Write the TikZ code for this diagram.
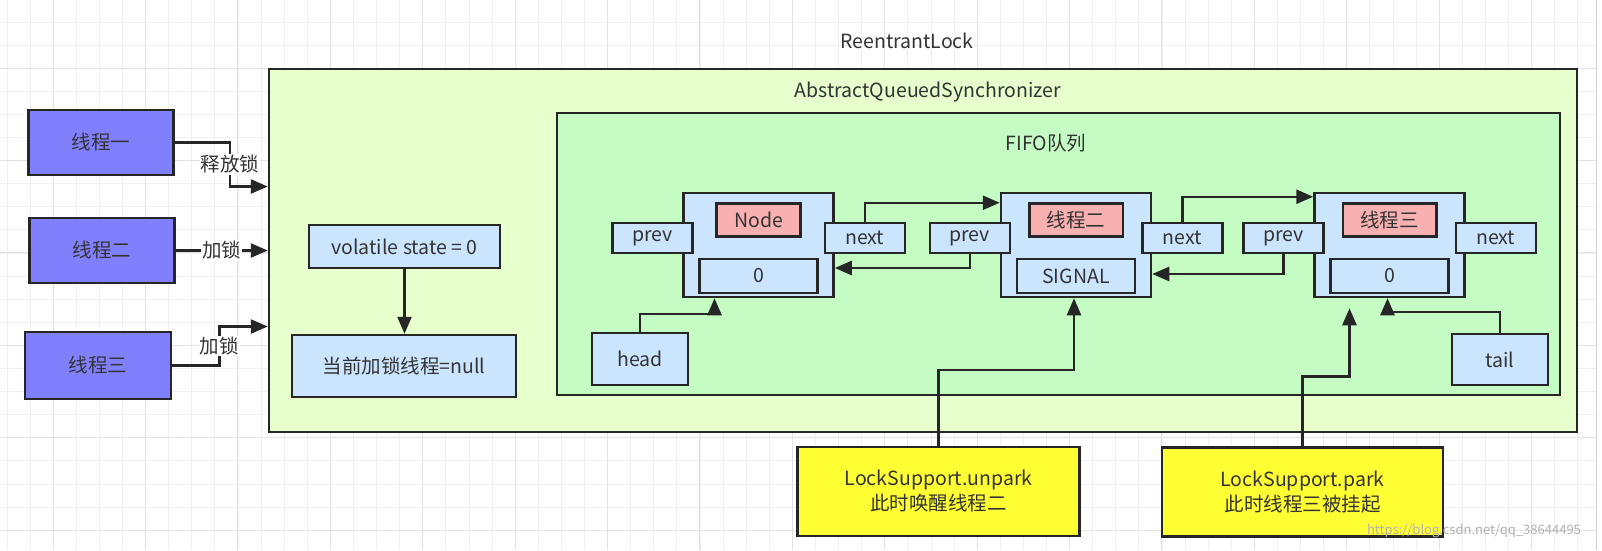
\documentclass[tikz,border=0pt]{standalone}
\usepackage{fontspec}
\setmainfont{Noto Sans CJK SC}
\usetikzlibrary{arrows.meta,calc,positioning}
\definecolor{threadpurple}{HTML}{8080FF}
\definecolor{aqsgreen}{HTML}{E6FFCC}
\definecolor{fifogreen}{HTML}{C4FCC4}
\definecolor{boxblue}{HTML}{CCE5FF}
\definecolor{tagred}{HTML}{F8B0B0}
\definecolor{noteyellow}{HTML}{FFFF33}
\definecolor{edgegrey}{HTML}{262626}
\definecolor{textgrey}{HTML}{333333}
\definecolor{gridminor}{HTML}{F0F0F0}
\definecolor{gridmajor}{HTML}{E2E2E2}
\newcommand{\queuenode}[4]{% {name}{x}{label}{value}
  % Outer box
  \node[qbox] (#1) at (#2,245) {};
  % Label and value
  \node[tagbox] (#1tag) at (#2,220) {#3};
  \node[valbox] (#1val) at (#2,276) {#4};
  % Pointers
  \node[ptrbox] (#1prev) at ($(#1.west)+(-30,-7)$) {prev};
  \node[ptrbox] (#1next) at ($(#1.east)+(30,-7)$) {next};
}

\begin{document}
\begin{tikzpicture}[x=1pt,y=-1pt,
  every node/.style={font=\fontsize{19.5}{25}\selectfont,text=textgrey},
  box/.style={draw=edgegrey,line width=2.5pt,inner sep=0pt},
  thread/.style={box,fill=threadpurple,minimum width=145,minimum height=65},
  bluebox/.style={box,fill=boxblue},
  qbox/.style={bluebox,minimum width=150,minimum height=104},
  tagbox/.style={box,fill=tagred,inner xsep=17.5pt,minimum width=84,minimum height=33},
  valbox/.style={bluebox,minimum width=118,minimum height=34},
  ptrbox/.style={bluebox,minimum width=80,minimum height=30},
  note/.style={box,fill=noteyellow,align=center,minimum width=282,minimum height=89},
  arr/.style={draw=edgegrey,line width=2.5pt,-{Triangle[length=17pt,width=14pt]}},
  lbl/.style={fill=white,inner sep=1pt}]
  % Canvas and grid
  \fill[white] (0,0) rectangle (1602,550);
  \useasboundingbox (0,0) rectangle (1602,550);
  \foreach \x in {7,30.1,...,1596} \draw[gridminor,line width=1pt] (\x,0) -- (\x,550);
  \foreach \y in {22,45.1,...,550} \draw[gridminor,line width=1pt] (0,\y) -- (1596,\y);
  \foreach \x in {53,145.4,...,1596} \draw[gridmajor,line width=1pt] (\x,0) -- (\x,550);
  \foreach \y in {68,160.4,...,550} \draw[gridmajor,line width=1pt] (0,\y) -- (1596,\y);
  \draw[gray!35,line width=1pt] (1596,0) -- (1596,550);
  % Containers
  \node (locktitle) at (907,41) {ReentrantLock};
  \node[box,fill=aqsgreen,minimum width=1308,minimum height=363] (aqs) at (923,250.5) {};
  \node (aqstitle) at (928,92) {AbstractQueuedSynchronizer};
  \node[box,fill=fifogreen,minimum width=1003,minimum height=282] (fifo) at (1058.5,254) {};
  \node (fifotitle) at (1046,143) {FIFO队列};
  % Threads
  \node[thread] (t1) at (101,142.5) {线程一};
  \node[thread] (t2) at (102,250.5) {线程二};
  \node[thread,minimum width=146,minimum height=67] (t3) at (98,365.5) {线程三};
  % State
  \node[bluebox,minimum width=191,minimum height=43] (state) at (404.5,246.5) {volatile state = 0};
  \node[bluebox,minimum width=224,minimum height=62] (owner) at (404,366) {当前加锁线程=null};
  % Queue
  \queuenode{q1}{758.5}{Node}{0}
  \queuenode{q2}{1076}{线程二}{SIGNAL}
  \queuenode{q3}{1389.5}{线程三}{0}
  \node[bluebox,minimum width=96,minimum height=52] (head) at (640,359) {head};
  \node[bluebox,minimum width=96,minimum height=51] (tail) at (1500,359.5) {tail};
  % Notes
  \node[note] (unpark) at (938.5,491.5) {LockSupport.unpark\\此时唤醒线程二};
  \node[note,minimum width=281] (park) at (1302.5,492) {LockSupport.park\\此时线程三被挂起};
  % Arrows
  \draw[arr] (t1.east) -- ++(55,0) |- ([yshift=64pt]aqs.west) node[lbl,pos=0.25] {释放锁};
  \draw[arr] (t2.east) -- (t2.east -| aqs.west) node[lbl,midway] {加锁};
  \draw[arr] (t3.east) -- ++(47,0) |- ([yshift=-76pt]aqs.west) node[lbl,pos=0.25] {加锁};
  \draw[arr] (state.south) -- (state.south |- owner.north);
  \draw[arr] (q1next.north) |- ([yshift=-11pt]q2.north west);
  \draw[arr] (q2next.north) |- ([yshift=-5pt]q3.north west);
  \draw[arr] (q2prev.south) |- ([yshift=-23pt]q1.east);
  \draw[arr] (q3prev.south) |- ([yshift=-29pt]q2.east);
  \draw[arr] (head.north) -- ++(0,-18) -| ([xshift=-44pt]q1.south);
  \draw[arr] (tail.north) -- ++(0,-21) -| ([xshift=-2pt]q3.south);
  \draw[arr] (unpark.north) -- ++(0,-76) -| ([xshift=-2pt]q2.south);
  \draw[arr] (park.north) -- ++(0,-70) -| ([xshift=-40pt,yshift=-10pt]q3.south);
  % Watermark
  \node[font=\fontsize{13}{13}\selectfont,text=gray!60] (mark) at (1474,531) {https://blog.csdn.net/qq\_38644495};
\end{tikzpicture}
\end{document}
